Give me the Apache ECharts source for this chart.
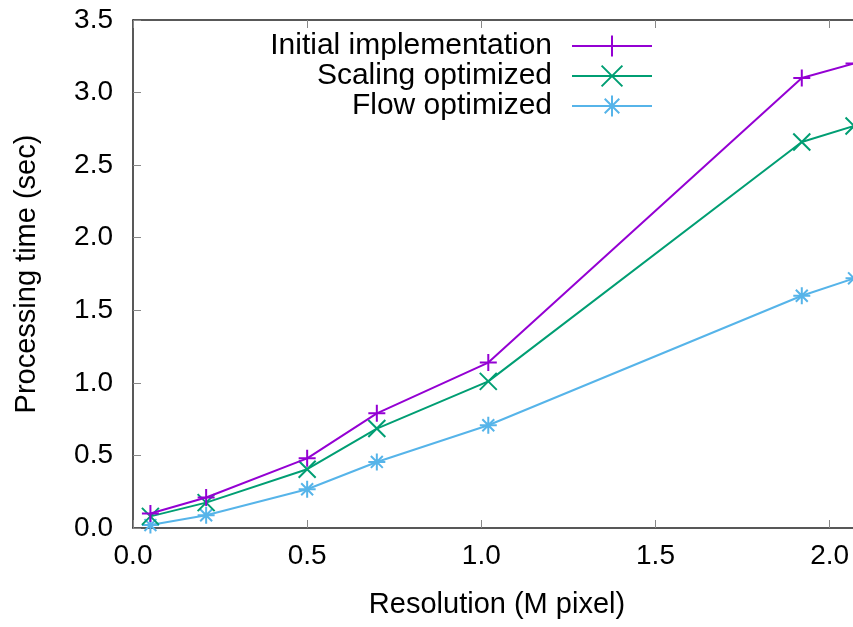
<!DOCTYPE html>
<html>
<head>
<meta charset="utf-8">
<script src="https://cdn.jsdelivr.net/npm/echarts@6/dist/echarts.min.js"></script>
<style>html,body{margin:0;padding:0;background:#fff}#c{width:853px;height:627px}</style>
</head>
<body>
<div id="c"></div>
<script>
// Data
const resolution = [0.05, 0.21, 0.50, 0.70, 1.02, 1.92, 2.07];
const initialImpl = [0.10, 0.21, 0.48, 0.79, 1.14, 3.10, 3.20];
const scalingOpt = [0.08, 0.175, 0.405, 0.685, 1.01, 2.66, 2.77];
const flowOpt = [0.02, 0.088, 0.267, 0.455, 0.708, 1.60, 1.72];
const seriesNames = ['Initial implementation', 'Scaling optimized', 'Flow optimized'];
const xTicks = [0, 0.5, 1.0, 1.5, 2.0];
const yTicks = [0, 0.5, 1.0, 1.5, 2.0, 2.5, 3.0, 3.5];

const FONT = '"Liberation Sans", Arial, sans-serif';
const colors = ['#9400d3', '#009e73', '#56b4e9'];
const symbols = [
  'path://M5,0 L5,10 M0,5 L10,5',
  'path://M0,0 L10,10 M0,10 L10,0',
  'path://M5,0 L5,10 M0,5 L10,5 M1.5,1.5 L8.5,8.5 M1.5,8.5 L8.5,1.5'
];
const values = [initialImpl, scalingOpt, flowOpt];

const chart = echarts.init(document.getElementById('c'), null, {renderer: 'canvas'});

const tickStyle = {show: true, inside: true, length: 8, lineStyle: {color: '#888', width: 1}};
const axLine = {show: true, onZero: false, lineStyle: {color: '#222', width: 1.5}};

const series = seriesNames.map((n, i) => ({
  name: n,
  type: 'line',
  data: resolution.map((x, j) => [x, values[i][j]]),
  symbol: symbols[i],
  symbolSize: 17,
  showAllSymbol: true,
  lineStyle: {color: colors[i], width: 2},
  itemStyle: {color: colors[i], borderColor: colors[i], borderWidth: 2},
  emphasis: {disabled: true},
  clip: false,
  z: 3 - i
}));

const legends = seriesNames.map((n, i) => ({
  data: [n],
  right: 200,
  top: 31 + i * 30,
  align: 'right',
  itemWidth: 80,
  itemHeight: 26,
  itemGap: 20,
  padding: 0,
  lineStyle: {width: 2},
  itemStyle: {borderWidth: 2},
  textStyle: {fontFamily: FONT, fontSize: 30, color: '#000', padding: [0, 15, 0, 0]},
  selectedMode: false
}));

chart.setOption({
  animation: false,
  backgroundColor: '#fff',
  legend: legends,
  grid: {left: 133, top: 20, bottom: 99, right: -8, outerBoundsMode: 'none', containLabel: false},
  xAxis: [{
    type: 'value', position: 'bottom', min: 0, max: 2.09, interval: 0.5,
    name: 'Resolution (M pixel)', nameLocation: 'middle', nameGap: 62,
    nameTextStyle: {fontFamily: FONT, fontSize: 29, color: '#000'},
    axisLine: axLine, axisTick: tickStyle, splitLine: {show: false},
    axisLabel: {fontFamily: FONT, fontSize: 28, color: '#000', margin: 14, showMaxLabel: false,
      formatter: v => xTicks.indexOf(v) >= 0 ? v.toFixed(1) : ''}
  }, {
    type: 'value', position: 'top', min: 0, max: 2.09, interval: 0.5,
    axisLine: axLine, axisTick: tickStyle, splitLine: {show: false}, axisLabel: {show: false}
  }],
  yAxis: [{
    type: 'value', position: 'left', min: 0, max: 3.5, interval: 0.5,
    name: 'Processing time (sec)', nameLocation: 'middle', nameGap: 92, nameRotate: 90,
    nameTextStyle: {fontFamily: FONT, fontSize: 29, color: '#000'},
    axisLine: axLine, axisTick: tickStyle, splitLine: {show: false},
    axisLabel: {fontFamily: FONT, fontSize: 28, color: '#000', margin: 20,
      formatter: v => yTicks.indexOf(v) >= 0 ? v.toFixed(1) : ''}
  }, {
    type: 'value', position: 'right', min: 0, max: 3.5, interval: 0.5,
    axisLine: axLine, axisTick: tickStyle, splitLine: {show: false}, axisLabel: {show: false}
  }],
  series: series
});
</script>
</body>
</html>
